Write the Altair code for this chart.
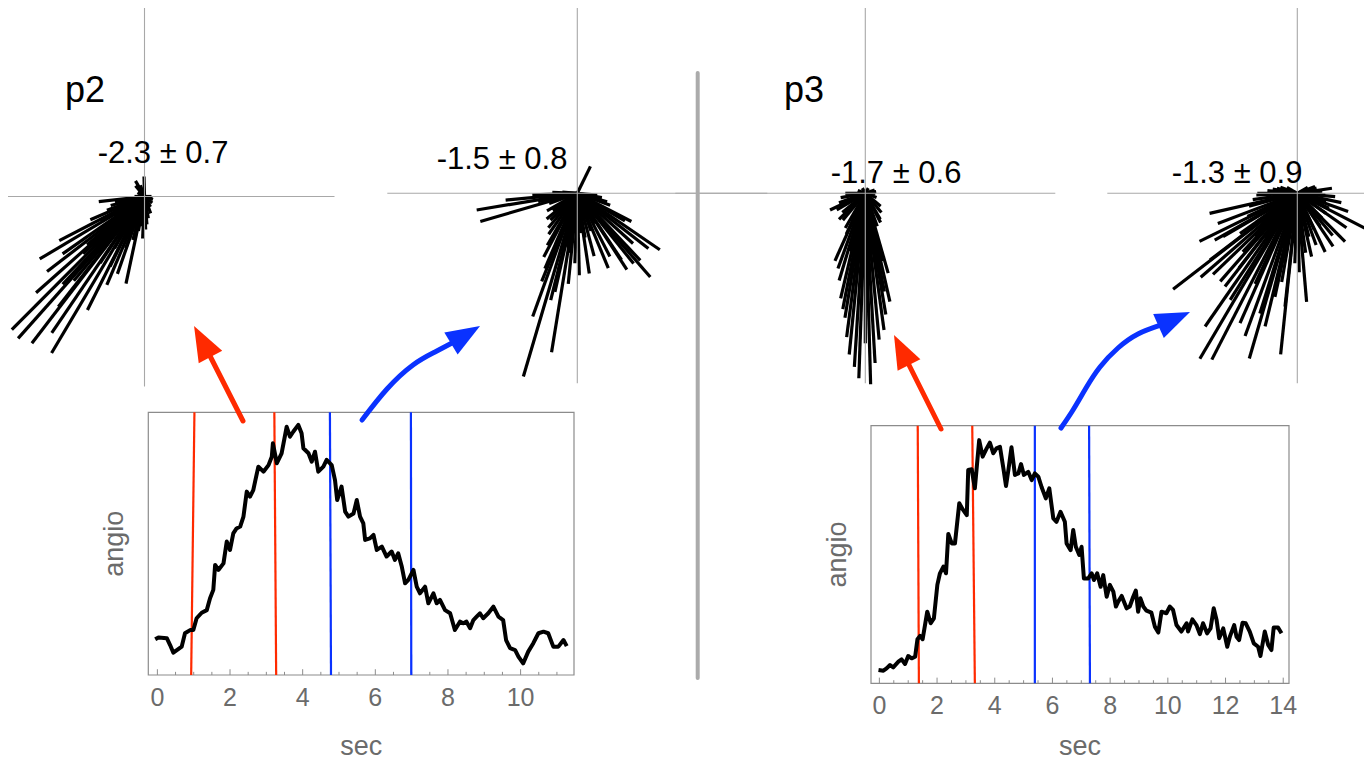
import altair as alt
import pandas as pd

OFF = 8
W, H = 1356, 753
FONT = "Liberation Sans"
RED = "#ff2a00"
BLUE = "#0a32ff"
AXGRAY = "#a8a8a8"

# ---------------- DATA ----------------
p2_sec = [-0.06, 0.03, 0.26, 0.35, 0.44, 0.67, 0.76, 0.90, 0.99, 1.08, 1.22, 1.36, 1.45, 1.54, 1.59,
          1.68, 1.82, 1.91, 2.00, 2.09, 2.18, 2.28, 2.37, 2.46, 2.55, 2.64, 2.69, 2.78, 2.92, 3.06,
          3.15, 3.18, 3.29, 3.42, 3.56, 3.65, 3.74, 3.88, 3.97, 4.02, 4.16, 4.25, 4.34, 4.43, 4.57,
          4.66, 4.80, 4.89, 4.95, 5.07, 5.17, 5.26, 5.40, 5.49, 5.58, 5.67, 5.72, 5.85, 5.95, 6.04,
          6.18, 6.31, 6.45, 6.54, 6.63, 6.73, 6.82, 6.91, 7.05, 7.14, 7.23, 7.37, 7.46, 7.60, 7.69,
          7.78, 7.92, 8.06, 8.19, 8.33, 8.42, 8.51, 8.61, 8.70, 8.79, 8.88, 8.97, 9.11, 9.25, 9.39,
          9.52, 9.60, 9.71, 9.85, 9.94, 10.07, 10.21, 10.35, 10.49, 10.63, 10.76, 10.90, 11.04, 11.18, 11.27]
p2_angio = [13.6, 14.3, 14.0, 11.4, 8.5, 10.8, 15.9, 17.1, 17.1, 21.6, 23.7, 24.7, 29.2, 32.4, 41.9,
            40.0, 42.5, 50.8, 47.6, 53.9, 55.8, 56.5, 60.3, 69.8, 67.9, 70.4, 73.6, 79.3, 77.4, 79.9,
            83.1, 88.2, 80.6, 84.4, 94.5, 90.7, 92.6, 95.2, 92.0, 86.3, 84.4, 81.2, 85.0, 77.4, 79.3,
            81.9, 79.9, 74.2, 66.6, 71.7, 62.2, 60.3, 61.5, 66.6, 60.3, 57.7, 51.4, 52.0, 53.3, 47.6,
            48.9, 45.1, 47.0, 43.8, 46.3, 41.2, 34.9, 36.2, 40.0, 33.6, 31.1, 33.6, 27.3, 31.1, 27.3,
            28.6, 24.7, 23.5, 17.1, 20.3, 19.7, 20.3, 17.8, 20.9, 22.2, 23.5, 21.6, 23.5, 26.0, 22.2,
            20.9, 13.3, 10.2, 9.5, 7.0, 4.4, 8.9, 12.1, 15.9, 16.5, 15.9, 10.8, 10.8, 13.3, 11.0]

p3_sec = [-0.03, 0.14, 0.25, 0.37, 0.48, 0.66, 0.77, 0.89, 1.00, 1.12,
          1.24, 1.32, 1.41, 1.50, 1.66, 1.78, 1.89, 2.01, 2.10, 2.22,
          2.31, 2.39, 2.51, 2.62, 2.77, 2.89, 3.03, 3.08, 3.20, 3.31,
          3.46, 3.58, 3.72, 3.83, 3.95, 4.06, 4.18, 4.30, 4.39, 4.48,
          4.58, 4.70, 4.82, 4.91, 5.01, 5.16, 5.28, 5.39, 5.51, 5.62,
          5.77, 5.89, 6.03, 6.14, 6.28, 6.43, 6.49, 6.63, 6.72, 6.81,
          6.93, 7.01, 7.09, 7.24, 7.36, 7.44, 7.55, 7.67, 7.76, 7.88,
          7.99, 8.11, 8.20, 8.28, 8.40, 8.57, 8.68, 8.80, 8.89, 8.97,
          9.05, 9.15, 9.26, 9.43, 9.55, 9.67, 9.78, 9.95, 10.07, 10.18,
          10.30, 10.47, 10.65, 10.70, 10.85, 10.99, 11.11, 11.22, 11.36, 11.48,
          11.59, 11.69, 11.78, 11.92, 12.06, 12.15, 12.30, 12.38, 12.47, 12.59,
          12.70, 12.84, 12.98, 13.13, 13.21, 13.36, 13.48, 13.59, 13.67, 13.82, 13.94]
p3_angio = [5.2, 4.9, 5.8, 7.1, 6.2, 8.4, 9.3, 7.5, 10.6, 9.7,
            10.3, 17.1, 18.4, 17.1, 27.8, 23.3, 25.2, 38.2, 42.7, 45.3,
            42.7, 58.0, 54.3, 54.3, 69.9, 67.5, 65.3, 82.8, 83.1, 75.7,
            94.4, 88.0, 91.2, 93.4, 89.3, 91.2, 91.8, 83.4, 76.6, 83.4,
            91.6, 80.9, 81.5, 85.1, 80.9, 82.1, 78.9, 81.5, 80.2, 76.3,
            71.8, 75.7, 64.0, 62.7, 66.6, 62.7, 54.3, 51.7, 59.5, 53.0,
            49.8, 53.0, 40.7, 40.7, 42.7, 40.1, 42.7, 37.5, 42.0, 33.6,
            38.2, 35.6, 29.8, 31.7, 33.9, 29.1, 29.8, 33.6, 36.0, 27.8,
            33.0, 29.8, 28.2, 27.4, 22.0, 19.7, 27.8, 27.2, 29.8, 28.5,
            22.6, 20.1, 23.3, 20.1, 24.8, 22.6, 19.1, 23.3, 19.4, 21.3,
            29.1, 24.6, 17.5, 21.3, 14.2, 18.1, 22.6, 18.1, 16.8, 23.5,
            23.3, 20.1, 15.5, 14.2, 10.6, 20.1, 14.9, 12.9, 21.7, 21.7, 19.4]

# window marker lines (sec at top edge, sec at bottom edge)
p2_red_top, p2_red_bot = [1.02, 3.22], [0.93, 3.27]
p2_blue_top, p2_blue_bot = [4.75, 6.98], [4.78, 6.99]
p3_red_top, p3_red_bot = [1.33, 3.22], [1.37, 3.31]
p3_blue_top, p3_blue_bot = [5.39, 7.27], [5.39, 7.30]

p2_major = [0, 2, 4, 6, 8, 10]
p2_minor = [0.5, 1, 1.5, 2.5, 3, 3.5, 4.5, 5, 5.5, 6.5, 7, 7.5, 8.5, 9, 9.5, 10.5, 11]
p3_major = [0, 2, 4, 6, 8, 10, 12, 14]
p3_minor = [0.5, 1, 1.5, 2.5, 3, 3.5, 4.5, 5, 5.5, 6.5, 7, 7.5, 8.5, 9, 9.5,
            10.5, 11, 11.5, 12.5, 13, 13.5]

# rose plots: (angle in degrees, magnitude)
rose1 = [(-134.9, 188), (-131.7, 190), (-127.5, 185), (-120.7, 182), (-124.2, 165), (-138.4, 145),
         (-142.4, 123), (-149.2, 122), (-152.6, 96), (-116.7, 127), (-113.1, 96), (-102.0, 89),
         (-109.3, 82), (-173.6, 46), (91.4, 20), (-92.5, 42), (-136.9, 84), (-137.0, 69),
         (-123.7, 80), (-116.2, 78), (-156.7, 59), (-130.0, 110), (-145.0, 100), (-128.0, 140),
         (-133.0, 120), (-140.0, 75), (-120.0, 60), (-110.0, 55), (-160.0, 40), (-150.0, 50),
         (-105.0, 45), (-170.0, 30), (-165.0, 35), (-145.0, 35), (-125.0, 38), (-100.0, 35),
         (-95.0, 30), (-85.0, 28), (-75.0, 15), (-60.0, 12), (-40.0, 10), (-20.0, 9), (0.0, 7),
         (110.0, 12), (120.0, 18), (130.0, 14), (150.0, 8), (180.0, 10), (-10.0, 8), (-80.0, 22),
         (-70.0, 18), (-88.0, 33)]
rose2 = [(-106.4, 191), (-99.2, 161), (-109.9, 131), (-102.8, 101), (-95.7, 91), (-113.3, 82),
         (-117.8, 72), (-88.6, 82), (-81.5, 81), (-67.5, 81), (-57.0, 91), (-48.9, 111),
         (-34.4, 100), (-27.5, 61), (-37.8, 90), (-51.3, 90), (-170.6, 102), (-163.8, 101),
         (-174.6, 72), (64.0, 30), (-15.8, 31), (-97.0, 60), (-56.4, 80), (-46.8, 92), (-62.7, 71),
         (-104.0, 110), (-112.0, 95), (-120.0, 60), (-125.0, 50), (-92.0, 70), (-75.0, 65),
         (-42.0, 75), (-30.0, 55), (-175.0, 35), (-168.0, 40), (-160.0, 30), (-150.0, 35),
         (-140.0, 40), (-130.0, 45), (-100.0, 55), (-90.0, 50), (-85.0, 40), (-80.0, 45),
         (-70.0, 40), (-60.0, 35), (-50.0, 40), (-20.0, 35), (-10.0, 25), (-5.0, 20), (175.0, 15),
         (178.0, 25), (-178.0, 45), (-145.0, 30), (-135.0, 38)]
rose3 = [(-92.0, 185), (-88.4, 191), (-95.7, 162), (-84.6, 147), (-99.3, 126), (-80.4, 123),
         (-103.2, 108), (-77.2, 111), (-106.7, 91), (-74.0, 83), (-114.2, 74), (-154.7, 39),
         (-135.3, 37), (-62.4, 33), (9.0, 11), (-93.6, 174), (-86.7, 170), (-97.4, 145),
         (-82.2, 138), (-101.0, 118), (-79.0, 100), (-110.0, 80), (-90.0, 150), (-105.0, 60),
         (-76.0, 70), (-180.0, 20), (-170.0, 25), (-160.0, 28), (-150.0, 33), (-140.0, 30),
         (-130.0, 35), (-120.0, 40), (-115.0, 45), (-100.0, 45), (-95.0, 40), (-90.0, 44),
         (-85.0, 42), (-80.0, 40), (-70.0, 35), (-60.0, 30), (-50.0, 25), (-40.0, 20), (-20.0, 12),
         (0.0, 10), (160.0, 8), (120.0, 6), (90.0, 4), (60.0, 6), (20.0, 10)]
rose4 = [(-120.5, 192), (-117.2, 187), (-106.2, 172), (-95.9, 162), (-124.7, 162), (-113.8, 142),
         (-110.1, 152), (-103.6, 137), (-142.3, 157), (-139.0, 128), (-136.1, 117), (-131.2, 117),
         (-127.8, 118), (-153.8, 109), (-167.1, 90), (-159.2, 85), (-150.4, 95), (-85.1, 109),
         (-88.6, 79), (-77.3, 65), (-64.6, 65), (-56.0, 64), (-45.4, 68), (-27.3, 84), (-19.8, 54),
         (8.3, 35), (20.7, 19), (-177.6, 41), (166.0, 21), (-102.2, 106), (-96.2, 114),
         (-107.3, 126), (-122.2, 126), (-142.6, 110), (-149.7, 86), (-115.0, 100), (-128.0, 95),
         (-133.0, 80), (-145.0, 70), (-100.0, 90), (-92.0, 70), (-82.0, 60), (-70.0, 55),
         (-35.0, 60), (-50.0, 55), (-12.0, 45), (-5.0, 38), (175.0, 30), (-180.0, 40),
         (-172.0, 45), (-165.0, 50), (-155.0, 55), (-145.0, 50), (-135.0, 60), (-125.0, 55),
         (-115.0, 60), (-105.0, 55), (-95.0, 50), (-85.0, 45), (-75.0, 45), (-65.0, 40),
         (-55.0, 40), (-45.0, 35), (-35.0, 35), (-25.0, 35), (-15.0, 30), (-3.0, 28), (5.0, 25),
         (15.0, 20), (30.0, 12), (150.0, 12), (160.0, 18), (170.0, 25)]
rose_labels = ["-2.3 \u00b1 0.7", "-1.5 \u00b1 0.8", "-1.7 \u00b1 0.6", "-1.3 \u00b1 0.9"]
panel_labels = ["p2", "p3"]

# ---------------- LAYOUT (page pixels) ----------------
R = 190
ROSE_CENTERS = [(144.5, 196.5), (577.3, 193.3), (865.3, 193.3), (1297.3, 193.3)]
ROSE_LABEL_OFFSETS = [(18.5, 33.5), (-75.3, 24.3), (30.7, 10.3), (-60.3, 10.3)]
TS_BOXES = [(148.3, 574.0, 412.3, 675.0), (871.0, 1289.0, 425.7, 683.3)]
TS_XDOMS = [[-0.25, 11.47], [-0.29, 14.2]]
SEC_DY = [80, 71.5]


def pscale(dom, r0, r1):
    return alt.Scale(domain=dom, range=[r0 - OFF, r1 - OFF], nice=False, zero=False)


def ts_panel(sec, angio, red_top, red_bot, blue_top, blue_bot, major, minor, xdom, box, sec_dy):
    x0, x1, y0, y1 = box
    sx = pscale(xdom, x0, x1)
    sy = pscale([0, 100], y1, y0)

    def X(f):
        return alt.X(f"{f}:Q", scale=sx, axis=None)

    def Y(f):
        return alt.Y(f"{f}:Q", scale=sy, axis=None)

    frame = alt.Chart(pd.DataFrame({"a": [xdom[0]], "b": [xdom[1]], "lo": [0.0], "hi": [100.0]})).mark_rect(
        fillOpacity=0, stroke="#8c8c8c", strokeWidth=1.2
    ).encode(x=X("a"), x2="b", y=Y("lo"), y2="hi")

    tk = pd.DataFrame({"t": major + minor, "lo": 0.0,
                       "hi": [2.2] * len(major) + [1.2] * len(minor)})
    ticks = alt.Chart(tk).mark_rule(color="#8c8c8c", strokeWidth=1).encode(
        x=X("t"), y=Y("lo"), y2="hi")

    mk = pd.DataFrame({"bot": red_bot + blue_bot, "top": red_top + blue_top, "lo": 0.0, "hi": 100.0,
                       "col": [RED] * len(red_top) + [BLUE] * len(blue_top)})
    markers = alt.Chart(mk).mark_rule(strokeWidth=2.2).encode(
        x=X("bot"), y=Y("lo"), x2="top", y2="hi", color=alt.Color("col:N", scale=None))

    ln = pd.DataFrame({"sec": sec, "angio": angio, "i": list(range(len(sec)))})
    line = alt.Chart(ln).mark_line(color="black", strokeWidth=4, strokeJoin="round").encode(
        x=X("sec"), y=Y("angio"), order="i:Q")

    lab = pd.DataFrame({"t": major, "lo": 0.0, "lab": [str(m) for m in major]})
    labels = alt.Chart(lab).mark_text(dy=23, fontSize=25, color="#6b6b6b", font=FONT,
                                      baseline="middle").encode(x=X("t"), y=Y("lo"), text="lab:N")

    sec_t = alt.Chart(pd.DataFrame({"t": [(xdom[0] + xdom[1]) / 2], "lo": [0.0]})).mark_text(
        text="sec", dy=sec_dy, fontSize=27, color="#6b6b6b", font=FONT, baseline="alphabetic"
    ).encode(x=X("t"), y=Y("lo"))
    ang_t = alt.Chart(pd.DataFrame({"t": [xdom[0]], "v": [50.0]})).mark_text(
        text="angio", angle=270, dy=-33, fontSize=27, color="#6b6b6b", font=FONT, baseline="middle"
    ).encode(x=X("t"), y=Y("v"))
    return alt.layer(frame, ticks, markers, line, labels, sec_t, ang_t)


def rose_panel(pairs, center, label, loff):
    cx, cy = center
    sx = pscale([-R, R], cx - R, cx + R)
    sy = pscale([-R, R], cy + R, cy - R)

    def X(f):
        return alt.X(f"{f}:Q", scale=sx, axis=None)

    def Y(f):
        return alt.Y(f"{f}:Q", scale=sy, axis=None)

    df = pd.DataFrame(pairs, columns=["ang", "mag"])
    segs = alt.Chart(df).transform_calculate(
        x0="0", y0="0",
        x1="datum.mag * cos(datum.ang * PI / 180)",
        y1="datum.mag * sin(datum.ang * PI / 180)",
    ).mark_rule(color="black", strokeWidth=3.2).encode(x=X("x0"), y=Y("y0"), x2="x1", y2="y1")

    cross = alt.Chart(pd.DataFrame({"xa": [-R, 0], "xb": [R, 0], "ya": [0, -R], "yb": [0, R]})).mark_rule(
        color=AXGRAY, strokeWidth=1.1
    ).encode(x=X("xa"), x2="xb", y=Y("ya"), y2="yb")

    txt = alt.Chart(pd.DataFrame({"x": [loff[0]], "y": [loff[1]], "t": [label]})).mark_text(
        fontSize=31, font=FONT, color="black", baseline="alphabetic", align="center"
    ).encode(x=X("x"), y=Y("y"), text="t:N")
    return alt.layer(segs, cross, txt)


def canvas_panel():
    sx = pscale([0, 1372], 0, 1372)
    sy = pscale([0, 769], 0, 769)

    def X(f):
        return alt.X(f"{f}:Q", scale=sx, axis=None)

    def Y(f):
        return alt.Y(f"{f}:Q", scale=sy, axis=None)

    sep = alt.Chart(pd.DataFrame({"x": [697.7], "y": [73.0], "y2": [678.0]})).mark_rule(
        color="#ababab", strokeWidth=4, strokeCap="round"
    ).encode(x=X("x"), y=Y("y"), y2="y2")

    shafts = pd.DataFrame({
        "id": ["r1"] * 2 + ["r2"] * 2 + ["b1"] * 5 + ["b2"] * 7,
        "i": [0, 1, 0, 1, 0, 1, 2, 3, 4, 0, 1, 2, 3, 4, 5, 6],
        "x": [243, 208.5, 941, 907.5, 362, 387, 413, 435, 453, 1061, 1073, 1086, 1100, 1118, 1138, 1160.5],
        "y": [421, 353, 429, 362, 420, 389, 365, 352, 342.5, 428, 410, 388, 367, 348, 334, 325.2],
        "c": [RED] * 4 + [BLUE] * 12,
    })
    shaft = alt.Chart(shafts).mark_line(strokeWidth=5, strokeCap="round", interpolate="natural").encode(
        x=X("x"), y=Y("y"), detail="id:N", order="i:Q", color=alt.Color("c:N", scale=None))

    heads = pd.DataFrame({
        "x": [202.25, 901.5, 465.5, 1174.25],
        "y": [341.5, 350.0, 334.75, 319.0],
        "ang": [332.0, 333.4, 58.9, 66.0],
        "s": [1225, 1122, 1149, 1190],
        "c": [RED, RED, BLUE, BLUE],
    })
    head = alt.Chart(heads).mark_point(
        shape="M0,-1L0.76,1L-0.76,1Z", filled=True, opacity=1, strokeWidth=0
    ).encode(x=X("x"), y=Y("y"), angle=alt.Angle("ang:Q", scale=None),
             size=alt.Size("s:Q", scale=None), color=alt.Color("c:N", scale=None))

    pl = alt.Chart(pd.DataFrame({"x": [85.0, 804.0], "y": [102.0, 102.0], "t": panel_labels})).mark_text(
        fontSize=36, font=FONT, color="black", baseline="alphabetic", align="center"
    ).encode(x=X("x"), y=Y("y"), text="t:N")
    return alt.layer(sep, shaft, head, pl)


panels = [
    ts_panel(p2_sec, p2_angio, p2_red_top, p2_red_bot, p2_blue_top, p2_blue_bot,
             p2_major, p2_minor, TS_XDOMS[0], TS_BOXES[0], SEC_DY[0]),
    ts_panel(p3_sec, p3_angio, p3_red_top, p3_red_bot, p3_blue_top, p3_blue_bot,
             p3_major, p3_minor, TS_XDOMS[1], TS_BOXES[1], SEC_DY[1]),
]
for pairs, c, lab, lo in zip([rose1, rose2, rose3, rose4], ROSE_CENTERS, rose_labels, ROSE_LABEL_OFFSETS):
    panels.append(rose_panel(pairs, c, lab, lo))
panels.append(canvas_panel())

chart = alt.layer(*panels).resolve_scale(
    x="independent", y="independent"
).properties(
    width=W, height=H, padding=0, background="white",
    autosize=alt.AutoSizeParams(type="none"),
).configure_view(stroke=None)

chart.save("out.html", embed_options={"renderer": "svg", "actions": False})
